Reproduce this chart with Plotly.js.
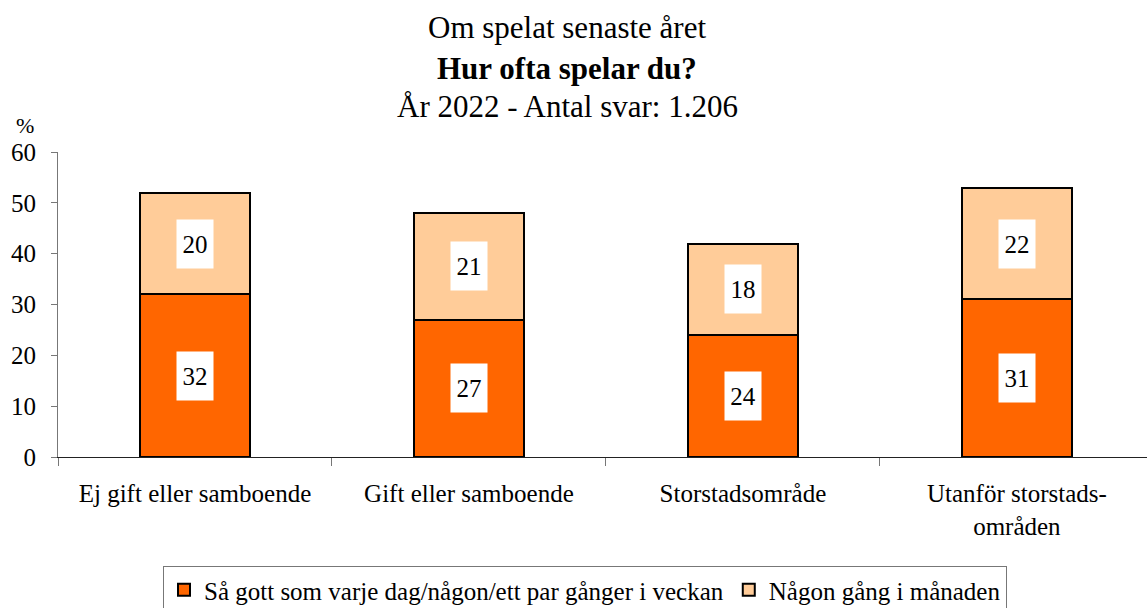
<!DOCTYPE html>
<html>
<head>
<meta charset="utf-8">
<script src="https://cdn.plot.ly/plotly-3.0.1.min.js"></script>
<style>html,body{margin:0;padding:0;background:#fff;}#chart{width:1147px;height:608px;}</style>
</head>
<body>
<div id="chart"></div>
<script>
const categories = ["Ej gift eller samboende", "Gift eller samboende", "Storstadsområde", "Utanför storstads-<br>områden"];
const weekly = [32, 27, 24, 31];
const monthly = [20, 21, 18, 22];
const seriesNames = ["Så gott som varje dag/någon/ett par gånger i veckan", "Någon gång i månaden"];
const yTicks = [0, 10, 20, 30, 40, 50, 60];

const FONT = "Liberation Serif, Times New Roman, serif";

const traces = [
  {type: "bar", name: seriesNames[0], x: categories, y: weekly,
   marker: {color: "#FF6600", line: {color: "#000", width: 2}}, width: 0.4, hoverinfo: "skip"},
  {type: "bar", name: seriesNames[1], x: categories, y: monthly,
   marker: {color: "#FFCC99", line: {color: "#000", width: 2}}, width: 0.4, hoverinfo: "skip"}
];

const annotations = [];
categories.forEach((c, i) => {
  [[weekly[i], weekly[i] / 2], [monthly[i], weekly[i] + monthly[i] / 2]].forEach(([v, yPos]) => {
    annotations.push({x: c, y: yPos, xref: "x", yref: "y", text: String(v), showarrow: false,
      bgcolor: "#fff", width: 34, height: 46, font: {family: FONT, size: 25, color: "#000"}});
  });
});
annotations.push({xref: "paper", yref: "paper", x: (25 - 58) / 1089, y: (457 - 126) / 305, xanchor: "center", yanchor: "middle",
  text: "%", showarrow: false, font: {family: FONT, size: 22, color: "#000"}});
const titleLines = ["Om spelat senaste året", "<b>Hur ofta spelar du?</b>", "År 2022 - Antal svar: 1.206"];
const titleY = [28, 68, 106];
titleLines.forEach((t, i) => {
  annotations.push({xref: "paper", yref: "paper", x: (567 - 58) / 1089, y: (457 - titleY[i]) / 305,
    xanchor: "center", yanchor: "middle", text: t, showarrow: false,
    font: {family: FONT, size: 31, color: "#000"}});
});

const layout = {
  width: 1147, height: 608,
  margin: {l: 58, r: 0, t: 152, b: 151},
  paper_bgcolor: "#fff", plot_bgcolor: "#fff",
  barmode: "stack",
  showlegend: true,
  font: {family: FONT, color: "#000"},
  xaxis: {range: [-0.5, 3.475], showline: true, linecolor: "#222", linewidth: 1,
    ticks: "outside", tickson: "boundaries", ticklen: 8, tickcolor: "#777",
    ticklabelstandoff: 14, automargin: false,
    tickfont: {family: FONT, size: 25, color: "#000"}, showgrid: false, zeroline: false, fixedrange: true},
  yaxis: {range: [0, 60], tickvals: yTicks, showline: true, linecolor: "#777", linewidth: 1,
    ticks: "outside", ticklen: 6, tickcolor: "#777", showgrid: false, zeroline: false,
    ticklabelstandoff: 10, automargin: false,
    tickfont: {family: FONT, size: 25, color: "#000"}, fixedrange: true},
  legend: {orientation: "h", x: (585 - 58) / 1089, xanchor: "center",
    yref: "container", y: (608 - 566) / 608, yanchor: "top",
    bgcolor: "#fff", bordercolor: "#777", borderwidth: 1, traceorder: "normal",
    font: {family: FONT, size: 25, color: "#000"}, itemwidth: 30},
  annotations: annotations
};

Plotly.newPlot("chart", traces, layout, {displayModeBar: false, staticPlot: true});
</script>
</body>
</html>
